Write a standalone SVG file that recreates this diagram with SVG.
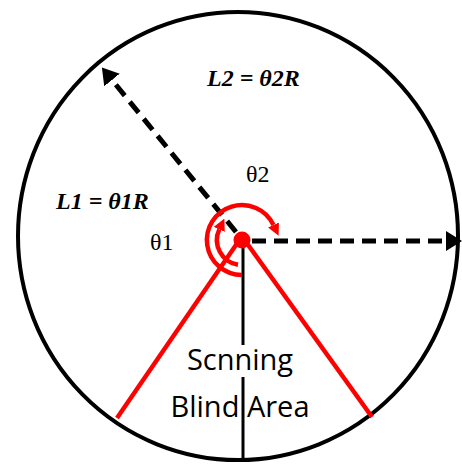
<svg xmlns="http://www.w3.org/2000/svg" width="462" height="466" viewBox="0 0 462 466">
<style>
.dash{fill:none;stroke:#000;stroke-width:5;stroke-dasharray:14 8}
.red{fill:none;stroke:#f00;stroke-width:4.5}
.eq{font-family:"Liberation Serif",serif;font-style:italic;font-weight:bold;font-size:24px;fill:#000}
.th{font-family:"Liberation Serif",serif;font-size:24px;fill:#000}
.lbl{font-family:"Open Sans",sans-serif;font-size:29px;fill:#000;text-anchor:middle}
</style>
<defs>
<marker id="ah" markerUnits="userSpaceOnUse" viewBox="0 0 16 20" refX="0" refY="10" markerWidth="16" markerHeight="20" orient="auto">
<path d="M0,0 L16,10 L0,20 z" fill="#000"/>
</marker>
<marker id="rh" markerUnits="userSpaceOnUse" viewBox="0 0 12 12" refX="0" refY="6" markerWidth="12" markerHeight="12" orient="auto">
<path d="M0,0 L12,6 L0,12 z" fill="#f00"/>
</marker>
</defs>
<rect width="462" height="466" fill="#fff"/>
<g id="circle">
<ellipse cx="238" cy="236" rx="220" ry="224" fill="none" stroke="#000" stroke-width="4"/>
</g>
<g id="connectors">
<line x1="243" y1="248" x2="243" y2="345" stroke="#000" stroke-width="3"/>
<line x1="243" y1="377" x2="243" y2="460" stroke="#000" stroke-width="3"/>
<line class="red" x1="238" y1="242" x2="117" y2="418"/>
<line class="red" x1="246" y1="242" x2="372" y2="417"/>
<path class="dash" d="M236,232 L112,80" marker-end="url(#ah)"/>
<path class="dash" d="M252,241 L446,241" marker-end="url(#ah)"/>
<path class="red" d="M242,275 A35,35 0 1 1 273.5,225" marker-end="url(#rh)"/>
<path class="red" d="M238,264.7 A25,25 0 0 1 219.3,229.4" marker-end="url(#rh)"/>
</g>
<g id="center">
<circle cx="242" cy="240" r="8.5" fill="#f00"/>
</g>
<g id="labels">
<text class="eq" x="207" y="86">L2 = θ2R</text>
<text class="eq" x="56" y="209">L1 = θ1R</text>
<text class="th" x="246" y="182">θ2</text>
<text class="th" x="150" y="250">θ1</text>
<text class="lbl" x="240" y="370">Scnning</text>
<text class="lbl" x="240" y="417">Blind Area</text>
</g>
</svg>
